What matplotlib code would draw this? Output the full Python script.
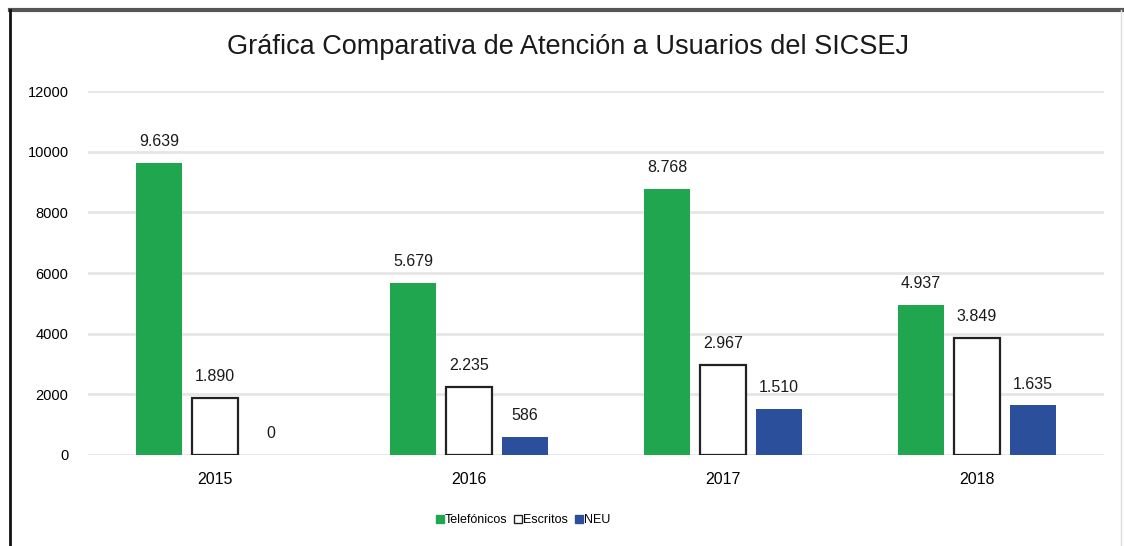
import matplotlib.pyplot as plt
import numpy as np
from matplotlib.lines import Line2D

plt.rcParams['font.family'] = ['Liberation Sans', 'DejaVu Sans']

years = ["2015", "2016", "2017", "2018"]
telefonicos = [9639, 5679, 8768, 4937]
escritos = [1890, 2235, 2967, 3849]
neu = [0, 586, 1510, 1635]
series_names = ["Telefónicos", "Escritos", "NEU"]

def fmt(v):
    # thousands with dot, like the original
    return f"{v:,}".replace(",", ".")

fig = plt.figure(figsize=(11.24, 5.46), dpi=100)
ax = fig.add_axes([88/1124, 1 - 455/546, (1104 - 88)/1124, (455 - 91)/546])

x = np.arange(len(years))
w = 0.182
step = 0.22

b1 = ax.bar(x - step, telefonicos, w, color="#1fa64e", linewidth=0, zorder=3)
b2 = ax.bar(x, escritos, w, color="white", edgecolor="#222222", linewidth=1.6, zorder=3)
b3 = ax.bar(x + step, neu, w, color="#2c4f9c", linewidth=0, zorder=3)

for bars, vals in [(b1, telefonicos), (b2, escritos), (b3, neu)]:
    for r, v in zip(bars, vals):
        ax.annotate(fmt(v), (r.get_x() + r.get_width()/2, v), xytext=(0, 10),
                    textcoords="offset points", ha="center", va="bottom",
                    fontsize=11.5, color="#1a1a1a")

ax.set_ylim(0, 12000)
ax.set_xlim(-0.5, 3.5)
ax.set_yticks(range(0, 12001, 2000))
ax.set_xticks(x)
ax.set_xticklabels(years, fontsize=11.5)
ax.tick_params(axis="y", labelsize=10.5, length=0, pad=14)
ax.tick_params(axis="x", length=0, pad=12)
ax.grid(axis="y", color="#e6e6e6", linewidth=2, zorder=0)
for s in ax.spines.values():
    s.set_visible(False)

fig.text(0.505, 1 - 47/546, "Gráfica Comparativa de Atención a Usuarios del SICSEJ",
         ha="center", va="center", fontsize=19.5, color="#1a1a1a")

handles = [
    Line2D([], [], marker="s", linestyle="", markersize=5.5, markerfacecolor="#1fa64e", markeredgecolor="#1fa64e"),
    Line2D([], [], marker="s", linestyle="", markersize=5.5, markerfacecolor="white", markeredgecolor="#222222"),
    Line2D([], [], marker="s", linestyle="", markersize=5.5, markerfacecolor="#2c4f9c", markeredgecolor="#2c4f9c"),
]
fig.legend(handles, series_names, loc="center", bbox_to_anchor=(523/1124, 1 - 520/546),
           ncol=3, frameon=False, fontsize=9, handletextpad=0.05, columnspacing=0.5,
           handlelength=0.7)

# outer frame
fig.add_artist(Line2D([10/1124, 1124/1124], [1 - 10/546, 1 - 10/546], color="#555555", linewidth=3))
fig.add_artist(Line2D([10/1124, 10/1124], [0, 1 - 10/546], color="#111111", linewidth=2))
fig.add_artist(Line2D([1121/1124, 1121/1124], [0, 1 - 10/546], color="#dddddd", linewidth=1))

fig.savefig("out.png", dpi=100)
